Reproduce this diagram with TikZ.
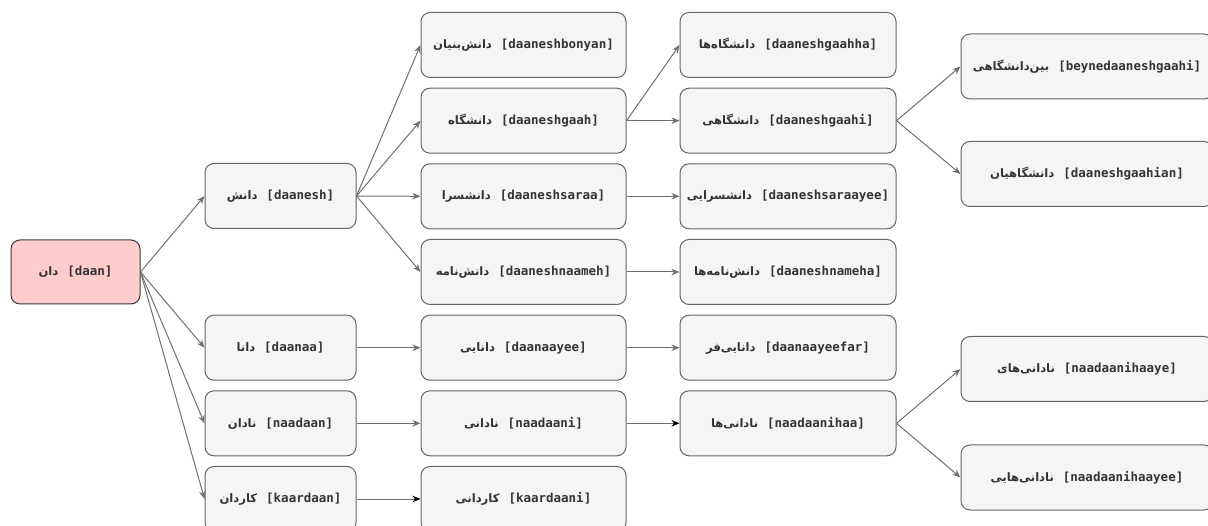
\documentclass[tikz,border=0pt]{standalone}
\usepackage{fontspec}
\setmonofont{DejaVu Sans Mono}
\newfontfamily\arabicfont[Script=Arabic]{DejaVu Sans}
\TeXXeTstate=1
\usetikzlibrary{arrows.meta}

\definecolor{boxfill}{HTML}{F5F5F5}
\definecolor{boxline}{HTML}{666666}
\definecolor{rootfill}{HTML}{FFCCCC}
\definecolor{rootline}{HTML}{36393D}
\definecolor{txt}{HTML}{333333}
\definecolor{edgecol}{HTML}{707070}

% Persian word (right to left) followed by its transliteration
\newcommand\fa[1]{{\arabicfont\bfseries\fontsize{11.6}{14}\selectfont\beginR #1\endR}}
\newcommand\wlab[2]{\fa{#1}\hspace{9pt}{\ttfamily\bfseries[#2]}}
\newcommand\zw{^^^^200c}

\begin{document}
\begin{tikzpicture}[x=1pt, y=-1pt,
  font=\fontsize{12.5}{15}\selectfont,
  word/.style={draw=boxline, fill=boxfill, rounded corners=9pt, line width=1pt,
    text=txt, minimum height=65pt, inner sep=0pt},
  rootbox/.style={word, draw=rootline, fill=rootfill, minimum width=129pt, minimum height=64pt},
  colA/.style={word, minimum width=151pt},
  colB/.style={word, minimum width=205pt},
  colC/.style={word, minimum width=216pt},
  colD/.style={word, minimum width=252pt},
  link/.style={draw=edgecol, line width=1pt, -{Stealth[length=8pt,width=6.5pt,inset=2.5pt]}},
  darklink/.style={draw=edgecol, line width=1pt, -{Stealth[length=8pt,width=6.5pt,inset=2.5pt,color=black]}}
]
\useasboundingbox (0,0) rectangle (1208,526);
\clip (0,0) rectangle (1208,526);

% root
\node[rootbox] (daan) at (75.5,272) {\wlab{دان}{daan}};

% first derivation level
\node[colA] (daanesh)  at (280.5,196)   {\wlab{دانش}{daanesh}};
\node[colA] (daanaa)   at (280.5,347.7) {\wlab{دانا}{daanaa}};
\node[colA] (naadaan)  at (280.5,423.3) {\wlab{نادان}{naadaan}};
\node[colA] (kaardaan) at (280.5,499)   {\wlab{کاردان}{kaardaan}};

% second level
\node[colB] (bonyan)   at (523.5,45)    {\wlab{دانش\zw بنیان}{daaneshbonyan}};
\node[colB] (gaah)     at (523.5,120.7) {\wlab{دانشگاه}{daaneshgaah}};
\node[colB] (saraa)    at (523.5,196.3) {\wlab{دانشسرا}{daaneshsaraa}};
\node[colB] (naameh)   at (523.5,272)   {\wlab{دانش\zw نامه}{daaneshnaameh}};
\node[colB] (daanaayee) at (523.5,347.7) {\wlab{دانایی}{daanaayee}};
\node[colB] (naadaani) at (523.5,423.3) {\wlab{نادانی}{naadaani}};
\node[colB] (kaardaani) at (523.5,499)  {\wlab{کاردانی}{kaardaani}};

% third level
\node[colC] (gaahha)   at (788,45)      {\wlab{دانشگاه\zw ها}{daaneshgaahha}};
\node[colC] (gaahi)    at (788,120.7)   {\wlab{دانشگاهی}{daaneshgaahi}};
\node[colC] (saraayee) at (788,196.3)   {\wlab{دانشسرایی}{daaneshsaraayee}};
\node[colC] (nameha)   at (788,272)     {\wlab{دانش\zw نامه\zw ها}{daaneshnameha}};
\node[colC] (ayeefar)  at (788,347.7)   {\wlab{دانایی\zw فر}{daanaayeefar}};
\node[colC] (nihaa)    at (788,423.3)   {\wlab{نادانی\zw ها}{naadaanihaa}};

% fourth level
\node[colD] (beyne)    at (1087,66.5)   {\wlab{بین\zw دانشگاهی}{beynedaaneshgaahi}};
\node[colD] (gaahian)  at (1087,174)    {\wlab{دانشگاهیان}{daaneshgaahian}};
\node[colD] (nihaaye)  at (1087,369)    {\wlab{نادانی\zw های}{naadaanihaaye}};
\node[colD] (nihaayee) at (1087,477.5)  {\wlab{نادانی\zw هایی}{naadaanihaayee}};

% connectors
\draw[link] (daan.east) -- (daanesh.west);
\draw[link] (daan.east) -- (daanaa.west);
\draw[link] (daan.east) -- (naadaan.west);
\draw[link] (daan.east) -- (kaardaan.west);

\draw[link] (daanesh.east) -- (bonyan.west);
\draw[link] (daanesh.east) -- (gaah.west);
\draw[link] (daanesh.east) -- (saraa.west);
\draw[link] (daanesh.east) -- (naameh.west);
\draw[link] (daanaa.east) -- (daanaayee.west);
\draw[link] (naadaan.east) -- (naadaani.west);
\draw[darklink] (kaardaan.east) -- (kaardaani.west);

\draw[link] (gaah.east) -- (gaahha.west);
\draw[link] (gaah.east) -- (gaahi.west);
\draw[link] (saraa.east) -- (saraayee.west);
\draw[link] (naameh.east) -- (nameha.west);
\draw[link] (daanaayee.east) -- (ayeefar.west);
\draw[darklink] (naadaani.east) -- (nihaa.west);

\draw[link] (gaahi.east) -- (beyne.west);
\draw[link] (gaahi.east) -- (gaahian.west);
\draw[link] (nihaa.east) -- (nihaaye.west);
\draw[link] (nihaa.east) -- (nihaayee.west);
\end{tikzpicture}
\end{document}
